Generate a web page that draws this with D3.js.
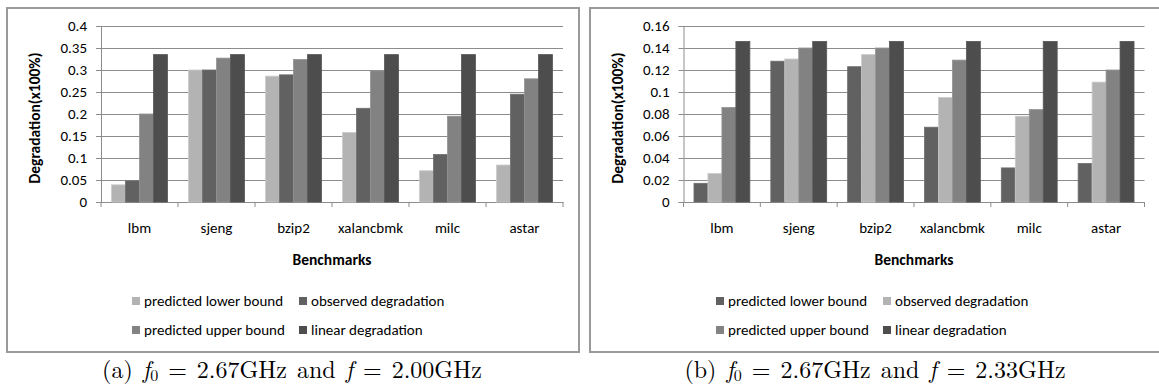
<!DOCTYPE html>
<html>
<head>
<meta charset="utf-8">
<script src="https://cdn.jsdelivr.net/npm/d3@7"></script>
<style>
    body { margin: 0; background: #fff; }
    svg { display: block; }
    .chart-text { font-family: Calibri, Carlito, Lato, 'Open Sans', sans-serif; fill: #000; }
    .caption { font-family: 'Latin Modern Roman', 'Liberation Serif', 'DejaVu Serif', serif; fill: #000; }
</style>
</head>
<body>
<svg id="fig" width="1159" height="390"></svg>
<script>
const categories = ['lbm', 'sjeng', 'bzip2', 'xalancbmk', 'milc', 'astar'];
const seriesNames = ['predicted lower bound', 'observed degradation', 'predicted upper bound', 'linear degradation'];

// (a) f0 = 2.67GHz, f = 2.00GHz
const lowerA = [0.039, 0.300, 0.286, 0.158, 0.071, 0.084];
const observedA = [0.048, 0.300, 0.289, 0.213, 0.108, 0.245];
const upperA = [0.200, 0.327, 0.324, 0.298, 0.195, 0.280];
const linearA = [0.335, 0.335, 0.335, 0.335, 0.335, 0.335];
const ticksA = [0, 0.05, 0.1, 0.15, 0.2, 0.25, 0.3, 0.35, 0.4];

// (b) f0 = 2.67GHz, f = 2.33GHz
const lowerB = [0.017, 0.128, 0.123, 0.068, 0.031, 0.035];
const observedB = [0.026, 0.130, 0.134, 0.095, 0.078, 0.109];
const upperB = [0.086, 0.140, 0.140, 0.129, 0.084, 0.120];
const linearB = [0.146, 0.146, 0.146, 0.146, 0.146, 0.146];
const ticksB = [0, 0.02, 0.04, 0.06, 0.08, 0.1, 0.12, 0.14, 0.16];

const LIGHT = '#b3b3b3';
const DARK = '#616161';
const MID = '#828282';
const DARKEST = '#4d4d4d';
const GRID = '#8c8c8c';
const FS = '15px';

const svg = d3.select('#fig');

const drawChart = (opts) => {
    const { frame, plot, series, colors, ticks, caption } = opts;

    const g = svg.append('g');

    // outer frame
    g.append('rect')
        .attr('x', frame.x0)
        .attr('y', frame.y0)
        .attr('width', frame.x1 - frame.x0)
        .attr('height', frame.y1 - frame.y0)
        .attr('fill', 'none')
        .attr('stroke', '#9a9a9a')
        .attr('stroke-width', 2);

    const x = d3.scaleBand().domain(categories).range([plot.x0, plot.x1]);
    const xs = d3
        .scaleBand()
        .domain(d3.range(series.length))
        .range([0, x.bandwidth()])
        .paddingInner(0)
        .paddingOuter(0.75);
    const y = d3
        .scaleLinear()
        .domain([0, ticks[ticks.length - 1]])
        .range([plot.y1, plot.y0]);

    // gridlines
    g.append('g')
        .selectAll('line')
        .data(ticks)
        .enter()
        .append('line')
        .attr('x1', plot.x0)
        .attr('x2', plot.x1)
        .attr('y1', (d) => Math.round(y(d)) + 0.5)
        .attr('y2', (d) => Math.round(y(d)) + 0.5)
        .attr('stroke', GRID)
        .attr('stroke-width', 1);

    // y axis
    const yAxis = d3
        .axisLeft(y)
        .tickValues(ticks)
        .tickSize(5)
        .tickPadding(9)
        .tickFormat((d) => String(+d.toFixed(2)));
    const ya = g
        .append('g')
        .attr('transform', `translate(${plot.x0}, 0)`)
        .call(yAxis);
    ya.select('.domain').attr('stroke', GRID);
    ya.selectAll('.tick line').attr('stroke', GRID);
    ya.selectAll('.tick text')
        .attr('class', 'chart-text')
        .style('font-size', FS);
    ya.attr('font-family', null).attr('font-size', null);

    // x axis
    const xAxis = d3.axisBottom(x).tickSize(0).tickPadding(20);
    const xa = g
        .append('g')
        .attr('transform', `translate(0, ${plot.y1})`)
        .call(xAxis);
    xa.select('.domain').attr('stroke', GRID);
    xa.selectAll('.tick text')
        .attr('class', 'chart-text')
        .style('font-size', FS);
    xa.attr('font-family', null).attr('font-size', null);

    // category separators below axis
    g.append('g')
        .selectAll('line')
        .data(categories.concat(['end']))
        .enter()
        .append('line')
        .attr('x1', (d, i) => (i < categories.length ? x(d) : plot.x1))
        .attr('x2', (d, i) => (i < categories.length ? x(d) : plot.x1))
        .attr('y1', plot.y1)
        .attr('y2', plot.y1 + 5)
        .attr('stroke', GRID);

    // bars
    series.forEach((values, si) => {
        g.append('g')
            .selectAll('rect')
            .data(values)
            .enter()
            .append('rect')
            .attr('x', (d, i) => x(categories[i]) + xs(si))
            .attr('y', (d) => y(d))
            .attr('width', xs.bandwidth())
            .attr('height', (d) => y(0) - y(d))
            .attr('fill', colors[si])
            .attr('stroke', d3.color(colors[si]).brighter(0.35))
            .attr('stroke-width', 0.8);
    });

    // axis titles
    g.append('text')
        .attr('class', 'chart-text')
        .attr('transform', `translate(${plot.x0 - 61}, ${(plot.y0 + plot.y1) / 2 + 4}) rotate(-90)`)
        .attr('text-anchor', 'middle')
        .style('font-size', '15.5px')
        .style('font-weight', 'bold')
        .text('Degradation(x100%)');

    g.append('text')
        .attr('class', 'chart-text')
        .attr('x', (plot.x0 + plot.x1) / 2)
        .attr('y', 265)
        .attr('text-anchor', 'middle')
        .style('font-size', '15.5px')
        .style('font-weight', 'bold')
        .text('Benchmarks');

    // legend (2 x 2)
    const legend = g.append('g');
    const colX = [0, 167];
    const rowY = [301, 330];
    const legW = 322;
    const lx = (frame.x0 + frame.x1) / 2 - legW / 2;
    seriesNames.forEach((name, i) => {
        const cx = lx + colX[i % 2];
        const cy = rowY[Math.floor(i / 2)];
        legend
            .append('rect')
            .attr('x', cx)
            .attr('y', cy - 4)
            .attr('width', 8)
            .attr('height', 8)
            .attr('fill', colors[i]);
        legend
            .append('text')
            .attr('class', 'chart-text')
            .attr('x', cx + 12)
            .attr('y', cy + 5)
            .style('font-size', FS)
            .text(name);
    });

    // caption
    const cap = svg
        .append('text')
        .attr('class', 'caption')
        .attr('x', caption.cx)
        .attr('y', 378)
        .attr('text-anchor', 'middle')
        .style('font-size', '24px')
        .style('word-spacing', '2px');
    cap.append('tspan').text(`(${caption.label})  `);
    cap.append('tspan').style('font-style', 'italic').text('f');
    cap.append('tspan').attr('dy', 3).style('font-size', '16px').text('0');
    cap.append('tspan').attr('dy', -3).text(` = ${caption.f0} and `);
    cap.append('tspan').style('font-style', 'italic').text('f');
    cap.append('tspan').text(` = ${caption.f}`);
};

drawChart({
    frame: { x0: 7, y0: 8, x1: 579, y1: 352 },
    plot: { x0: 101, x1: 563, y0: 26, y1: 202 },
    series: [lowerA, observedA, upperA, linearA],
    colors: [LIGHT, DARK, MID, DARKEST],
    ticks: ticksA,
    caption: { cx: 292, label: 'a', f0: '2.67GHz', f: '2.00GHz' }
});

drawChart({
    frame: { x0: 590, y0: 8, x1: 1164, y1: 352 },
    plot: { x0: 683.5, x1: 1144.5, y0: 26, y1: 202 },
    series: [lowerB, observedB, upperB, linearB],
    colors: [DARK, LIGHT, MID, DARKEST],
    ticks: ticksB,
    caption: { cx: 875, label: 'b', f0: '2.67GHz', f: '2.33GHz' }
});
</script>
</body>
</html>
